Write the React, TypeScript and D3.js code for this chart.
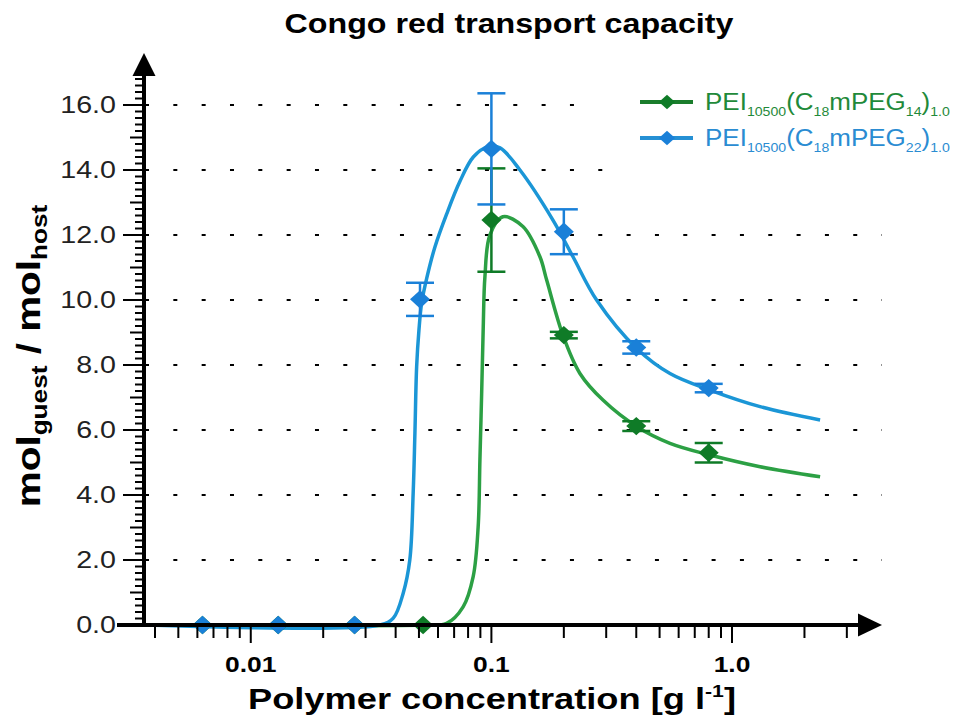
import React from "react";
import * as d3 from "d3";

// concentrations [g/l] and measured capacities
const blueX = [0.0063, 0.013, 0.027, 0.0505, 0.1, 0.2, 0.4, 0.8];
const blueY = [0, 0, 0, 10.02, 14.65, 12.1, 8.54, 7.29];
const blueErr = [0, 0, 0, 0.51, 1.71, 0.69, 0.19, 0.13];

const greenX = [0.0063, 0.013, 0.027, 0.052, 0.1, 0.2, 0.4, 0.8];
const greenY = [0, 0, 0, 0, 12.46, 8.92, 6.12, 5.3];
const greenErr = [0, 0, 0, 0, 1.59, 0.1, 0.15, 0.3];

// fitted curves
const blueFitX = [0.0037, 0.0344, 0.0391, 0.043, 0.0458, 0.0473, 0.0481, 0.0489, 0.05, 0.0513, 0.0539, 0.0583, 0.0652, 0.0741, 0.0841, 0.0969, 0.1086, 0.1314, 0.1802, 0.2183, 0.2737, 0.4015, 0.5523, 0.8101, 1.308, 2.323];
const blueFitY = [0, 0, 0.21, 0.98, 2.0, 4.05, 5.9, 7.94, 9.08, 9.91, 10.68, 11.64, 12.65, 13.66, 14.4, 14.72, 14.68, 14.0, 12.46, 11.33, 10.0, 8.51, 7.74, 7.23, 6.72, 6.31];
const greenFitX = [0.0037, 0.052, 0.0651, 0.0763, 0.084, 0.0881, 0.0896, 0.0911, 0.0925, 0.094, 0.0986, 0.1116, 0.1352, 0.1591, 0.1696, 0.1982, 0.2333, 0.2908, 0.4027, 0.5523, 0.8101, 1.308, 2.323];
const greenFitY = [0, 0, 0.05, 0.56, 1.49, 3.02, 5.08, 7.13, 9.18, 10.72, 12.0, 12.56, 12.26, 11.33, 10.62, 8.92, 7.74, 6.92, 6.1, 5.59, 5.23, 4.87, 4.56];

const xTickValues = [0.01, 0.1, 1];
const xTickLabels = ["0.01", "0.1", "1.0"];
const yTickValues = [0, 2, 4, 6, 8, 10, 12, 14, 16];
const gridValues = [2, 4, 6, 8, 10, 12, 14, 16];

const W = 956;
const H = 722;
const FONT = "'Liberation Sans', Arial, Helvetica, sans-serif";

const BLUE = { curve: "#1b96d6", mark: "#1a80d8", text: "#2a8cd2" };
const GREEN = { curve: "#2ca044", mark: "#0f7b27", text: "#1f8a3a" };

function Diamond({ cx, cy, r, fill }) {
  const p = d3.path();
  p.moveTo(cx, cy - r * 0.92);
  p.lineTo(cx + r, cy);
  p.lineTo(cx, cy + r * 0.92);
  p.lineTo(cx - r, cy);
  p.closePath();
  return <path d={p.toString()} fill={fill} />;
}

function Series({ xs, ys, errs, color, x, y }) {
  return (
    <g>
      {xs.map((v, i) => {
        const px = x(v);
        const e = errs[i];
        return (
          <g key={i}>
            {e > 0 && (
              <g stroke={color.mark} strokeWidth={2.5}>
                <line x1={px} x2={px} y1={y(ys[i] - e)} y2={y(ys[i] + e)} />
                <line x1={px - 14} x2={px + 14} y1={y(ys[i] + e)} y2={y(ys[i] + e)} />
                <line x1={px - 14} x2={px + 14} y1={y(ys[i] - e)} y2={y(ys[i] - e)} />
              </g>
            )}
            <Diamond cx={px} cy={y(ys[i])} r={10} fill={color.mark} />
          </g>
        );
      })}
    </g>
  );
}

function LegendLabel({ x, y, sub, color }) {
  // PEI_10500(C_18 mPEG_n)_1.0
  return (
    <text transform={`translate(${x},${y}) scale(1.13,1)`} fill={color} fontFamily={FONT} fontSize={23}>
      PEI
      <tspan fontSize={12.5} dy={6}>10500</tspan>
      <tspan dy={-6}>(C</tspan>
      <tspan fontSize={12.5} dy={6}>18</tspan>
      <tspan dy={-6}>mPEG</tspan>
      <tspan fontSize={12.5} dy={6}>{sub}</tspan>
      <tspan dy={-6}>)</tspan>
      <tspan fontSize={12.5} dy={6}>1.0</tspan>
    </text>
  );
}

export default function App() {
  const x = d3.scaleLog().domain([0.0036, 4.2]).range([144, 882]);
  const y = d3.scaleLinear().domain([0, 17.6]).range([625, 53]);

  const line = d3
    .line<[number, number]>()
    .x((d) => x(d[0]))
    .y((d) => y(d[1]))
    .curve(d3.curveCatmullRom.alpha(0.5));

  const blueFit = line(d3.zip(blueFitX, blueFitY) as [number, number][]);
  const greenFit = line(d3.zip(greenFitX, greenFitY) as [number, number][]);

  const xMinor = x.ticks().filter((t) => t < 3.5);
  const isMajorX = (t) => Math.abs(Math.log10(t) - Math.round(Math.log10(t))) < 1e-6;
  const yMinor = d3.range(0, 85);
  const fmt = d3.format(".1f");

  const x0 = x.range()[0];
  const x1 = x.range()[1];
  const y0 = y(0);
  const yTop = y.range()[1];

  return (
    <svg
      width={W}
      height={H}
      style={{ position: "absolute", left: 0, top: 0, background: "#fff" }}
      fontFamily={FONT}
    >
      <rect width={W} height={H} fill="#fff" />

      {/* title */}
      <text
        transform={`translate(509,33) scale(1.15,1)`}
        textAnchor="middle"
        fontWeight="bold"
        fontSize={28}
      >
        Congo red transport capacity
      </text>

      {/* dotted grid */}
      <g stroke="#000" strokeWidth={2.2} strokeDasharray="4 24.33">
        {gridValues.map((v) => (
          <line key={v} x1={x0 + 1} x2={x1} y1={y(v)} y2={y(v)} />
        ))}
      </g>

      {/* legend background */}
      <rect x={588} y={84} width={W - 588} height={50} fill="#fff" />
      <rect x={614} y={134} width={W - 614} height={46} fill="#fff" />

      {/* fitted curves */}
      <path d={greenFit} fill="none" stroke={GREEN.curve} strokeWidth={3.5} />
      <path d={blueFit} fill="none" stroke={BLUE.curve} strokeWidth={3.5} />

      <Series xs={greenX} ys={greenY} errs={greenErr} color={GREEN} x={x} y={y} />
      <Series xs={blueX} ys={blueY} errs={blueErr} color={BLUE} x={x} y={y} />

      {/* y axis */}
      <g stroke="#000">
        <line x1={x0} x2={x0} y1={y0 + 2} y2={yTop + 20} strokeWidth={4} />
        {yMinor.map((i) => {
          const len = i % 10 === 0 ? 21 : i % 5 === 0 ? 14 : 9;
          return (
            <line key={i} x1={x0 - len} x2={x0} y1={y(i * 0.2)} y2={y(i * 0.2)} strokeWidth={2} />
          );
        })}
      </g>
      <path
        d={`M${x0},${yTop} L${x0 + 11.5},${yTop + 23} L${x0 - 11.5},${yTop + 23} Z`}
        fill="#000"
      />
      <g fontSize={23.5} fill="#222">
        {yTickValues.map((v) => (
          <text key={v} transform={`translate(116,${y(v) + 8.4}) scale(1.22,1)`} textAnchor="end">
            {fmt(v)}
          </text>
        ))}
      </g>

      {/* x axis */}
      <g stroke="#000">
        <line x1={117} x2={x1 - 20} y1={y0} y2={y0} strokeWidth={4} />
        {xMinor.map((t, i) => (
          <line
            key={i}
            x1={x(t)}
            x2={x(t)}
            y1={y0}
            y2={y0 + (isMajorX(t) ? 18 : 13)}
            strokeWidth={2}
          />
        ))}
      </g>
      <path d={`M${x1},${y0} L${x1 - 24},${y0 - 11.5} L${x1 - 24},${y0 + 11.5} Z`} fill="#000" />
      <g fontSize={22} fontWeight="bold">
        {xTickValues.map((v, i) => (
          <text key={v} transform={`translate(${x(v)},672) scale(1.2,1)`} textAnchor="middle">
            {xTickLabels[i]}
          </text>
        ))}
      </g>

      {/* axis titles */}
      <text
        transform={`translate(492,709) scale(1.25,1)`}
        textAnchor="middle"
        fontWeight="bold"
        fontSize={29}
      >
        Polymer concentration [g l
        <tspan fontSize={17} dy={-12}>-1</tspan>
        <tspan dy={12}>]</tspan>
      </text>
      <text
        transform={`translate(40,356) rotate(-90) scale(1.19,1)`}
        textAnchor="middle"
        fontWeight="bold"
        fontSize={34}
      >
        mol
        <tspan fontSize={22} dy={7}>guest</tspan>
        <tspan dy={-7}> / mol</tspan>
        <tspan fontSize={22} dy={7}>host</tspan>
      </text>

      {/* legend */}
      <g>
        <line x1={640} x2={693} y1={102} y2={102} stroke="#1a7d2c" strokeWidth={4} />
        <Diamond cx={667} cy={102} r={8} fill={GREEN.mark} />
        <LegendLabel x={705} y={110} sub="14" color={GREEN.text} />
        <line x1={640} x2={693} y1={138} y2={138} stroke="#2590d4" strokeWidth={4} />
        <Diamond cx={667} cy={138} r={8} fill={BLUE.mark} />
        <LegendLabel x={705} y={146} sub="22" color={BLUE.text} />
      </g>
    </svg>
  );
}
